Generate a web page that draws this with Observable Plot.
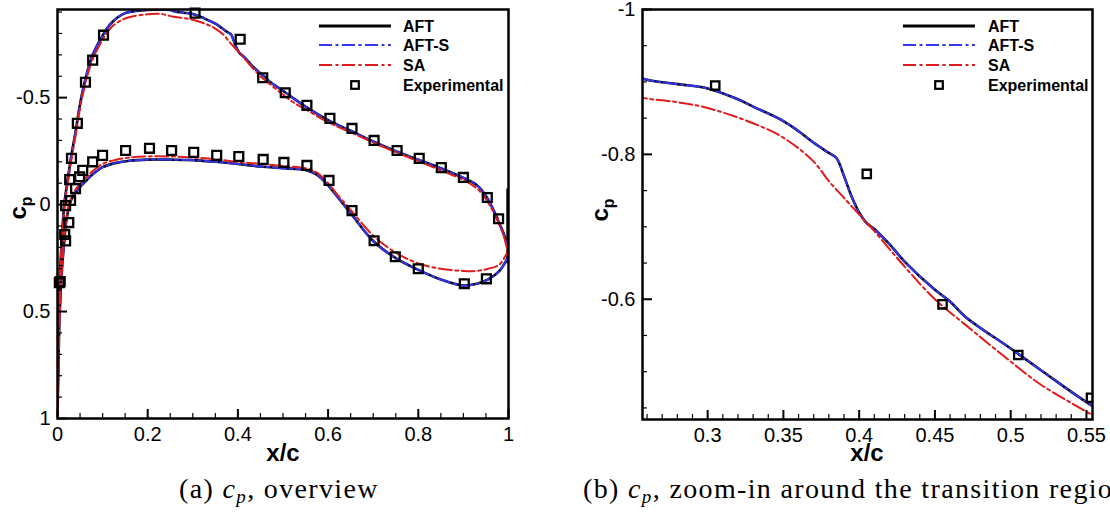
<!DOCTYPE html>
<html><head><meta charset="utf-8">
<script src="https://cdn.jsdelivr.net/npm/d3@7"></script>
<script src="https://cdn.jsdelivr.net/npm/@observablehq/plot@0.6"></script>
<style>
html,body{margin:0;padding:0;background:#fff;overflow:hidden;width:1110px;height:516px;}
#wrap{position:relative;width:1110px;height:516px;overflow:hidden;}
#wrap > svg, #wrap > figure{position:absolute;top:0;margin:0;}
</style></head><body><div id="wrap"></div>
<script>
// ---------------- DATA ----------------
const seriesNames = ["AFT", "AFT-S", "SA", "Experimental"];

// AFT (upper / suction side, LE -> TE) [x/c, cp]
const aftUpper = [[0,1.0],[0.002,0.6],[0.005,0.35],[0.01,0.15],[0.015,0.0],[0.02,-0.08],[0.025,-0.15],[0.03,-0.22],[0.04,-0.34],[0.05,-0.47],[0.06,-0.57],[0.07,-0.65],[0.08,-0.71],[0.1,-0.79],[0.12,-0.85],[0.15,-0.895],[0.2,-0.91],[0.25,-0.91],[0.26,-0.903],[0.28,-0.897],[0.3,-0.891],[0.32,-0.876],[0.33,-0.866],[0.35,-0.846],[0.36,-0.832],[0.37,-0.816],[0.38,-0.802],[0.385,-0.795],[0.39,-0.77],[0.395,-0.742],[0.4,-0.72],[0.405,-0.705],[0.41,-0.697],[0.42,-0.676],[0.43,-0.652],[0.45,-0.613],[0.46,-0.597],[0.47,-0.576],[0.5,-0.532],[0.52,-0.502],[0.55,-0.458],[0.6,-0.395],[0.65,-0.345],[0.7,-0.295],[0.75,-0.25],[0.8,-0.21],[0.85,-0.17],[0.9,-0.125],[0.93,-0.09],[0.95,-0.04],[0.97,0.04],[0.98,0.09],[0.99,0.14],[0.998,0.2]];
// AFT (lower / pressure side, LE -> TE, then trailing-edge base)
const aftLower = [[0,1.0],[0.002,0.75],[0.005,0.5],[0.01,0.3],[0.015,0.17],[0.02,0.07],[0.03,-0.02],[0.045,-0.07],[0.065,-0.115],[0.08,-0.145],[0.1,-0.175],[0.13,-0.195],[0.16,-0.205],[0.2,-0.21],[0.25,-0.21],[0.3,-0.208],[0.35,-0.2],[0.4,-0.19],[0.45,-0.178],[0.5,-0.17],[0.55,-0.162],[0.575,-0.14],[0.6,-0.09],[0.625,-0.025],[0.65,0.04],[0.7,0.17],[0.75,0.25],[0.8,0.305],[0.85,0.35],[0.9,0.378],[0.93,0.37],[0.955,0.35],[0.98,0.31],[0.998,0.25]];
const aftBase = [[0.998,-0.07],[0.998,0.27]];

// AFT-S
const aftsUpper = [[0,1.0],[0.002,0.6],[0.005,0.35],[0.01,0.15],[0.015,0.0],[0.02,-0.08],[0.025,-0.15],[0.03,-0.22],[0.04,-0.34],[0.05,-0.47],[0.06,-0.57],[0.07,-0.65],[0.08,-0.71],[0.1,-0.79],[0.12,-0.85],[0.15,-0.895],[0.2,-0.91],[0.25,-0.91],[0.26,-0.903],[0.28,-0.897],[0.3,-0.891],[0.32,-0.876],[0.33,-0.866],[0.35,-0.846],[0.36,-0.832],[0.37,-0.816],[0.38,-0.802],[0.385,-0.795],[0.39,-0.77],[0.395,-0.742],[0.4,-0.72],[0.405,-0.705],[0.41,-0.697],[0.42,-0.676],[0.43,-0.652],[0.45,-0.613],[0.46,-0.597],[0.47,-0.576],[0.5,-0.532],[0.52,-0.502],[0.55,-0.458],[0.6,-0.395],[0.65,-0.345],[0.7,-0.295],[0.75,-0.25],[0.8,-0.21],[0.85,-0.17],[0.9,-0.125],[0.93,-0.09],[0.95,-0.04],[0.97,0.04],[0.98,0.09],[0.99,0.14],[0.998,0.2]];
const aftsLower = [[0,1.0],[0.002,0.75],[0.005,0.5],[0.01,0.3],[0.015,0.17],[0.02,0.07],[0.03,-0.02],[0.045,-0.07],[0.065,-0.115],[0.08,-0.145],[0.1,-0.175],[0.13,-0.195],[0.16,-0.205],[0.2,-0.21],[0.25,-0.21],[0.3,-0.208],[0.35,-0.2],[0.4,-0.19],[0.45,-0.178],[0.5,-0.17],[0.55,-0.162],[0.575,-0.14],[0.6,-0.09],[0.625,-0.025],[0.65,0.04],[0.7,0.17],[0.75,0.25],[0.8,0.305],[0.85,0.35],[0.9,0.378],[0.93,0.37],[0.955,0.35],[0.98,0.31],[0.998,0.25]];

// SA
const saUpper = [[0,1.0],[0.002,0.6],[0.005,0.35],[0.01,0.16],[0.015,0.02],[0.02,-0.06],[0.025,-0.13],[0.03,-0.2],[0.04,-0.32],[0.05,-0.45],[0.06,-0.55],[0.07,-0.63],[0.08,-0.69],[0.1,-0.77],[0.12,-0.83],[0.15,-0.87],[0.2,-0.89],[0.23,-0.891],[0.257,-0.878],[0.28,-0.872],[0.3,-0.864],[0.33,-0.843],[0.35,-0.823],[0.37,-0.79],[0.38,-0.763],[0.39,-0.74],[0.4,-0.717],[0.41,-0.694],[0.43,-0.645],[0.45,-0.6],[0.47,-0.565],[0.5,-0.514],[0.52,-0.482],[0.554,-0.44],[0.6,-0.385],[0.65,-0.338],[0.7,-0.29],[0.75,-0.245],[0.8,-0.203],[0.85,-0.16],[0.9,-0.115],[0.93,-0.075],[0.95,-0.025],[0.97,0.05],[0.99,0.15],[0.998,0.22]];
const saLower = [[0,1.0],[0.002,0.75],[0.005,0.5],[0.01,0.3],[0.015,0.16],[0.02,0.06],[0.03,-0.03],[0.045,-0.085],[0.065,-0.13],[0.08,-0.16],[0.1,-0.19],[0.13,-0.21],[0.16,-0.22],[0.2,-0.225],[0.25,-0.225],[0.3,-0.22],[0.35,-0.212],[0.4,-0.2],[0.45,-0.19],[0.5,-0.18],[0.55,-0.17],[0.575,-0.15],[0.6,-0.1],[0.625,-0.035],[0.65,0.025],[0.7,0.145],[0.75,0.225],[0.8,0.275],[0.85,0.3],[0.9,0.31],[0.93,0.31],[0.955,0.3],[0.98,0.28],[0.998,0.22]];

// Experimental
const expUpper = [[0.004,0.365],[0.016,0.14],[0.018,0.005],[0.027,-0.117],[0.031,-0.216],[0.044,-0.38],[0.062,-0.572],[0.078,-0.675],[0.102,-0.792],[0.305,-0.895],[0.405,-0.773],[0.455,-0.593],[0.505,-0.523],[0.553,-0.464],[0.604,-0.403],[0.653,-0.356],[0.702,-0.3],[0.753,-0.253],[0.802,-0.216],[0.851,-0.173],[0.9,-0.127],[0.953,-0.033],[0.978,0.066]];
const expLower = [[0.006,0.36],[0.018,0.17],[0.025,0.084],[0.029,-0.019],[0.04,-0.075],[0.049,-0.13],[0.056,-0.16],[0.078,-0.2],[0.1,-0.23],[0.151,-0.253],[0.204,-0.263],[0.253,-0.253],[0.302,-0.244],[0.353,-0.23],[0.402,-0.225],[0.456,-0.211],[0.502,-0.197],[0.553,-0.183],[0.602,-0.113],[0.653,0.028],[0.702,0.169],[0.749,0.244],[0.8,0.3],[0.902,0.37],[0.951,0.347]];

// Ticks
const xMajorA = [0, 0.2, 0.4, 0.6, 0.8, 1];
const xLabelsA = ["0", "0.2", "0.4", "0.6", "0.8", "1"];
const yMajorA = [-0.5, 0, 0.5, 1];
const yLabelsA = ["-0.5", "0", "0.5", "1"];
const xMajorB = [0.3, 0.35, 0.4, 0.45, 0.5, 0.55];
const xLabelsB = ["0.3", "0.35", "0.4", "0.45", "0.5", "0.55"];
const yMajorB = [-1, -0.8, -0.6];
const yLabelsB = ["-1", "-0.8", "-0.6"];
const captions = ["(a) ", ", overview", "(b) ", ", zoom-in around the transition region"];

// ---------------- BUILD ----------------
const BLUE = "#3434f2", RED = "#e01b1b";
const DASH = "13,3.5,3,3.5";
const rows = (pts, surface) => pts.map(([x, cp]) => ({x, cp, surface}));
const aftRows = [...rows(aftUpper, "u"), ...rows(aftLower, "l"), ...rows(aftBase, "b")];
const aftsRows = [...rows(aftsUpper, "u"), ...rows(aftsLower, "l")];
const saRows = [...rows(saUpper, "u"), ...rows(saLower, "l")];
const expRows = [...rows(expUpper, "u"), ...rows(expLower, "l")];
const rng = (a, b, s) => d3.range(Math.round((b - a) / s) + 1).map(i => +(a + i * s).toFixed(4));
const notIn = (arr, maj) => arr.filter(v => !maj.some(m => Math.abs(m - v) < 1e-6));

function panel(c) {
  const iw = c.width - c.mL - c.mR, ih = c.height - c.mT - c.mB;
  const lab = (maj, labs) => d => labs[maj.findIndex(v => Math.abs(v - d) < 1e-9)];
  return Plot.plot({
    width: c.width, height: c.height,
    marginLeft: c.mL, marginRight: c.mR, marginTop: c.mT, marginBottom: c.mB,
    style: {fontFamily: "'Liberation Sans', Arial, sans-serif", fontSize: "20px", color: "#000", background: "transparent", overflow: "visible"},
    x: {domain: c.xDom},
    y: {domain: c.yDom, reverse: true},
    marks: [
      Plot.line(aftRows, {x: "x", y: "cp", z: "surface", stroke: "#000", strokeWidth: 2.6, curve: "catmull-rom", clip: true}),
      Plot.line(aftsRows, {x: "x", y: "cp", z: "surface", stroke: BLUE, strokeWidth: 2, strokeDasharray: DASH, curve: "catmull-rom", clip: true}),
      Plot.line(saRows, {x: "x", y: "cp", z: "surface", stroke: RED, strokeWidth: 2, strokeDasharray: DASH, curve: "catmull-rom", clip: true}),
      Plot.dot(expRows, {x: "x", y: "cp", symbol: "square", r: c.r, stroke: "#000", strokeWidth: 2.3, fill: "none", clip: c.clipDots}),
      Plot.tickX(c.xMin, {x: d => d, insetTop: ih - 5, stroke: "#000", strokeWidth: 1.2}),
      Plot.tickX(c.xMaj, {x: d => d, insetTop: ih - 9, stroke: "#000", strokeWidth: 2}),
      Plot.tickY(c.yMin, {y: d => d, insetRight: iw - 5, stroke: "#000", strokeWidth: 1.2}),
      Plot.tickY(c.yMaj, {y: d => d, insetRight: iw - 10, stroke: "#000", strokeWidth: 2}),
      Plot.axisX({ticks: c.xMaj, tickFormat: lab(c.xMaj, c.xLab), tickSize: 0, tickPadding: 8, fontSize: 20, label: null}),
      Plot.axisY({ticks: c.yMaj, tickFormat: lab(c.yMaj, c.yLab), tickSize: 0, tickPadding: 7, fontSize: 20, label: null}),
      Plot.frame({stroke: "#000", strokeWidth: 2.5})
    ]
  });
}

const wrap = document.getElementById("wrap");
const pA = panel({width: 560, height: 470, mL: 57, mR: 52, mT: 9, mB: 52,
  xDom: [0, 1], yDom: [-0.912, 1], r: 5, clipDots: false,
  xMaj: xMajorA, xLab: xLabelsA, xMin: notIn(rng(0, 1, 0.05), xMajorA),
  yMaj: yMajorA, yLab: yLabelsA, yMin: notIn(rng(-0.9, 1, 0.1), yMajorA)});
pA.style.left = "0px";
wrap.appendChild(pA);

const pB = panel({width: 525, height: 470, mL: 57, mR: 18, mT: 9, mB: 51,
  xDom: [0.257, 0.554], yDom: [-1, -0.434], r: 4.7, clipDots: true,
  xMaj: xMajorB, xLab: xLabelsB, xMin: notIn(rng(0.26, 0.55, 0.01), xMajorB),
  yMaj: yMajorB, yLab: yLabelsB, yMin: notIn(rng(-1, -0.45, 0.05), yMajorB)});
pB.style.left = "585px";
wrap.appendChild(pB);

// ---------------- OVERLAY: legends, axis titles, captions ----------------
const ov = d3.select(wrap).append("svg").attr("width", 1110).attr("height", 516)
  .style("left", "0px").style("top", "0px");

const legendStyles = [
  {stroke: "#000", w: 2.8, dash: null},
  {stroke: BLUE, w: 2, dash: DASH},
  {stroke: RED, w: 2, dash: DASH},
  null
];
const legendRows = [26, 45, 65, 85];
function legend(x0, x1, tx) {
  seriesNames.forEach((name, i) => {
    const y = legendRows[i], s = legendStyles[i];
    if (s) {
      ov.append("line").attr("x1", x0).attr("x2", x1).attr("y1", y).attr("y2", y)
        .attr("stroke", s.stroke).attr("stroke-width", s.w).attr("stroke-dasharray", s.dash);
    } else {
      const cx = (x0 + x1) / 2;
      ov.append("rect").attr("x", cx - 3.8).attr("y", y - 3.8).attr("width", 7.6).attr("height", 7.6)
        .attr("fill", "none").attr("stroke", "#000").attr("stroke-width", 2.2);
    }
    ov.append("text").attr("x", tx).attr("y", y).attr("dy", "0.36em")
      .attr("font-family", "'Liberation Sans', Arial, sans-serif").attr("font-weight", "bold")
      .attr("font-size", 16).text(name);
  });
}
legend(319, 391, 403);
legend(903, 975, 988);

function xTitle(cx) {
  ov.append("text").attr("x", cx).attr("y", 452).attr("dy", "0.36em").attr("text-anchor", "middle")
    .attr("font-family", "'Liberation Sans', Arial, sans-serif").attr("font-weight", "bold")
    .attr("font-size", 24).text("x/c");
}
xTitle(283); xTitle(867);

function yTitle(bx, cy) {
  const t = ov.append("text").attr("transform", `translate(${bx},${cy}) rotate(-90)`)
    .attr("text-anchor", "middle")
    .attr("font-family", "'Liberation Sans', Arial, sans-serif").attr("font-weight", "bold")
    .attr("font-size", 24);
  t.append("tspan").text("c");
  t.append("tspan").attr("dy", 6).attr("font-size", 16).text("p");
}
yTitle(26, 208); yTitle(608, 210);

function caption(x, pre, post) {
  const t = ov.append("text").attr("x", x).attr("y", 498)
    .attr("font-family", "'Liberation Serif', 'Times New Roman', serif")
    .attr("font-size", 28).attr("letter-spacing", "1.35px");
  t.append("tspan").text(pre);
  t.append("tspan").attr("font-style", "italic").text("c");
  t.append("tspan").attr("font-style", "italic").attr("font-size", 19).attr("dy", 5).text("p");
  t.append("tspan").attr("dy", -5).text(post);
}
caption(179, captions[0], captions[1]);
caption(583, captions[2], captions[3]);
</script></body></html>
